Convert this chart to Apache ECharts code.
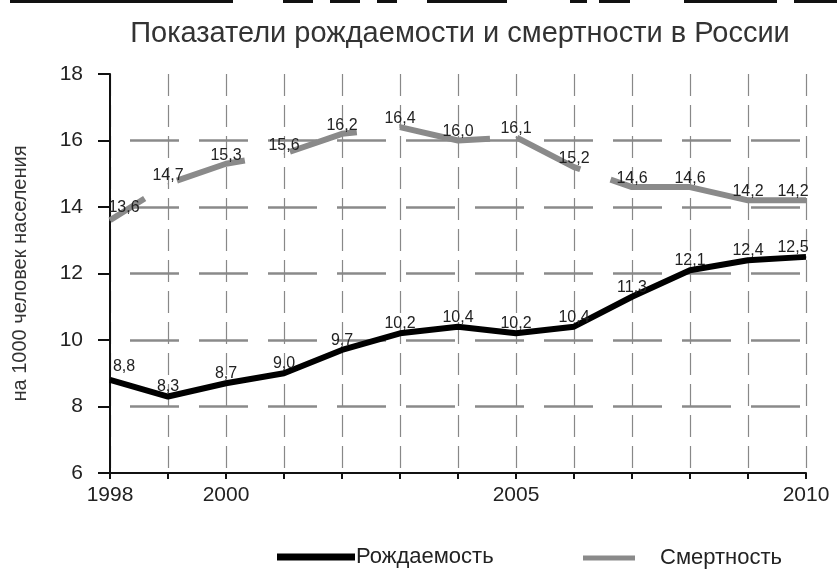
<!DOCTYPE html>
<html>
<head>
<meta charset="utf-8">
<script src="https://cdn.jsdelivr.net/npm/echarts@6/dist/echarts.min.js"></script>
<style>html,body{margin:0;padding:0;background:#fff}#c{width:837px;height:569px}</style>
</head>
<body>
<div id="c"></div>
<script>
const years = [1998,1999,2000,2001,2002,2003,2004,2005,2006,2007,2008,2009,2010];
const birthRate = [8.8,8.3,8.7,9.0,9.7,10.2,10.4,10.2,10.4,11.3,12.1,12.4,12.5];
const deathRate = [13.6,14.7,15.3,15.6,16.2,16.4,16.0,16.1,15.2,14.6,14.6,14.2,14.2];
const xTickLabels = [1998,2000,2005,2010];
const titleText = 'Показатели рождаемости и смертности в России';
const yAxisName = 'на 1000 человек населения';
const seriesNames = ['Рождаемость','Смертность'];

const FONT = '"Liberation Sans", Arial, sans-serif';
const fmt = p => p.value[1].toFixed(1).replace('.', ',');

// decorative strip at top (crop artifact of the source image)
const strip = [[10,223],[283,30],[330,30],[377,20],[427,80],[570,17],[599,31],[684,93],[794,43]];

function build(vals){
  return years.map((y,i)=>{
    const d = {value:[y, vals[i]]};
    if (i === 0) d.label = {offset:[14,-4]};
    if (i === years.length-1) d.label = {offset:[-13,0]};
    return d;
  });
}

const chart = echarts.init(document.getElementById('c'), null, {renderer:'canvas'});
chart.setOption({
  backgroundColor:'#fff',
  animation:false,
  title:{text:titleText,left:455,textAlign:'center',top:14,
    textStyle:{fontFamily:FONT,fontSize:29,fontWeight:'normal',color:'#333'}},
  graphic: strip.map(s=>({type:'rect',shape:{x:s[0],y:0,width:s[1],height:3},style:{fill:'#111'}})),
  grid:{left:110,right:31,top:74,bottom:96},
  legend:[
    {data:[seriesNames[0]],left:272,top:541,icon:'rect',itemWidth:78,itemHeight:7,
      textStyle:{fontFamily:FONT,fontSize:22,color:'#222',padding:[0,0,0,-4]}},
    {data:[seriesNames[1]],left:578,top:542,icon:'rect',itemWidth:52,itemHeight:5,
      textStyle:{fontFamily:FONT,fontSize:22,color:'#222',padding:[0,0,0,20]}}
  ],
  xAxis:{type:'value',min:1998,max:2010,interval:1,
    axisLine:{lineStyle:{color:'#111',width:2}},
    axisTick:{show:true,length:6,lineStyle:{color:'#111',width:2}},
    axisLabel:{fontFamily:FONT,fontSize:21,color:'#222',margin:12,
      formatter:v=>xTickLabels.includes(v)?String(v):''},
    splitLine:{show:true,lineStyle:{color:'#888',width:1.2,type:[22,9]}}
  },
  yAxis:{type:'value',min:6,max:18,interval:2,
    name:yAxisName,nameLocation:'middle',nameGap:80,nameRotate:90,
    nameTextStyle:{fontFamily:FONT,fontSize:20,color:'#333'},
    axisLine:{show:true,lineStyle:{color:'#111',width:2}},
    axisTick:{show:true,length:12,lineStyle:{color:'#111',width:2}},
    axisLabel:{fontFamily:FONT,fontSize:21,color:'#222',margin:27},
    splitLine:{show:true,lineStyle:{
      color:['rgba(0,0,0,0)','#8a8a8a','#8a8a8a','#8a8a8a','#8a8a8a','#8a8a8a','rgba(0,0,0,0)'],
      width:2.5,type:[49,20],dashOffset:49}}
  },
  series:[
    {name:seriesNames[0],type:'line',data:build(birthRate),
      symbol:'circle',symbolSize:1,showSymbol:true,
      lineStyle:{color:'#000',width:6},itemStyle:{color:'#000'},z:3,
      label:{show:true,formatter:fmt,position:'top',distance:1,fontFamily:FONT,fontSize:16,color:'#222'}},
    {name:seriesNames[1],type:'line',data:build(deathRate),
      symbol:'circle',symbolSize:1,showSymbol:true,
      lineStyle:{color:'#8a8a8a',width:6,type:[41,37,71,46,70,43,92,27,71,32,220]},itemStyle:{color:'#8a8a8a'},z:2,
      label:{show:true,formatter:fmt,position:'top',distance:0,fontFamily:FONT,fontSize:16,color:'#222'}}
  ]
});
</script>
</body>
</html>
